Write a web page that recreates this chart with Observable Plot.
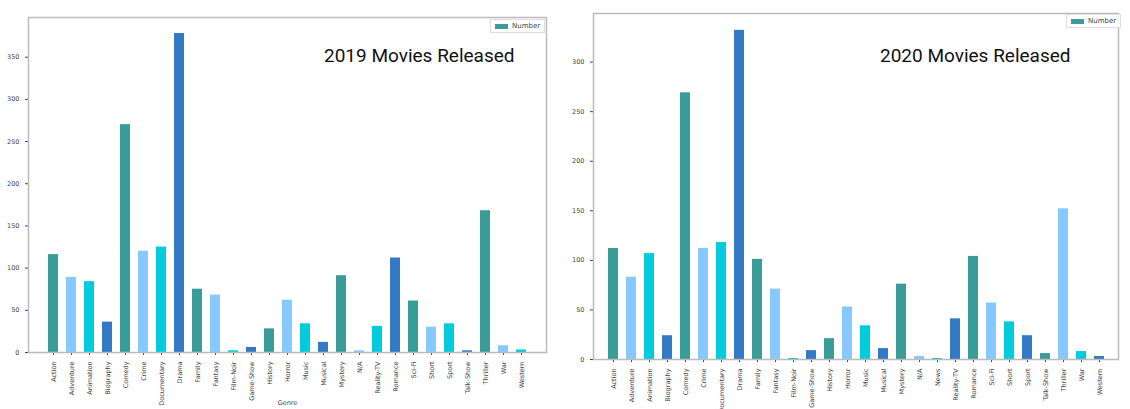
<!DOCTYPE html>
<html>
<head>
<meta charset="utf-8">
<script src="https://cdn.jsdelivr.net/npm/d3@7"></script>
<script src="https://cdn.jsdelivr.net/npm/@observablehq/plot@0.6"></script>
<style>
  body { margin: 0; background: #fff; font-family: "DejaVu Sans", sans-serif; }
  .panel { position: absolute; top: 0; }
  .title { position: absolute; font-family: Roboto, sans-serif; font-size: 19px; color: #111; }
  .legend { position: absolute; border: 1px solid #ddd; font-size: 7px; color: #444; padding: 2px 4px; background: #fff; display: flex; align-items: center; gap: 4px; }
  .legend i { display: inline-block; width: 13px; height: 5px; background: #3a9c98; }
</style>
</head>
<body>
<div id="p2019" class="panel" style="left:0"></div>
<div id="p2020" class="panel" style="left:565px"></div>
<script>
// Genre counts
const genres2019 = ["Action","Adventure","Animation","Biography","Comedy","Crime","Documentary","Drama","Family","Fantasy","Film-Noir","Game-Show","History","Horror","Music","Musical","Mystery","N/A","Reality-TV","Romance","Sci-Fi","Short","Sport","Talk-Show","Thriller","War","Western"];
const counts2019 = [116, 89, 84, 36, 270, 120, 125, 378, 75, 68, 2, 6, 28, 62, 34, 12, 91, 2, 31, 112, 61, 30, 34, 2, 168, 8, 3];

const genres2020 = ["Action","Adventure","Animation","Biography","Comedy","Crime","Documentary","Drama","Family","Fantasy","Film-Noir","Game-Show","History","Horror","Music","Musical","Mystery","N/A","News","Reality-TV","Romance","Sci-Fi","Short","Sport","Talk-Show","Thriller","War","Western"];
const counts2020 = [112, 83, 107, 24, 269, 112, 118, 332, 101, 71, 1, 9, 21, 53, 34, 11, 76, 3, 1, 41, 104, 57, 38, 24, 6, 152, 8, 3];

const palette = ["#3a9c98", "#87c9ff", "#00ccdd", "#3479c6"];

function renderPanel(id, genres, counts, opts) {
  const el = document.getElementById(id);
  const rows = genres.map((g, i) => ({ genre: g, count: counts[i], c: palette[i % 4] }));
  const plot = Plot.plot({
    width: opts.width,
    height: 409,
    marginLeft: 28,
    marginRight: 2,
    marginTop: opts.top,
    marginBottom: opts.bottom,
    style: { fontSize: "6.5px", color: "#444", fontFamily: "DejaVu Sans, sans-serif" },
    x: { domain: genres, padding: 0.46, label: opts.xlabel, labelAnchor: "center", labelOffset: 52, tickRotate: -90, tickSize: 3 },
    y: { domain: [0, opts.ymax], ticks: opts.ticks, label: null, tickSize: 3 },
    marks: [
      Plot.barY(rows, { x: "genre", y: "count", fill: d => d.c }),
      Plot.frame({ stroke: "#bbb", strokeWidth: 1.5 }),
    ],
  });
  el.appendChild(plot);
}

renderPanel("p2019", genres2019, counts2019, { width: 548, top: 17, bottom: 57, ymax: 397, ticks: d3.range(0, 351, 50), xlabel: "Genre" });
renderPanel("p2020", genres2020, counts2020, { width: 555, top: 13, bottom: 50, ymax: 349, ticks: d3.range(0, 301, 50), xlabel: null });
</script>
<div class="title" style="left:324px; top:44px">2019 Movies Released</div>
<div class="title" style="left:880px; top:44px">2020 Movies Released</div>
<div class="legend" style="left:490px; top:19px"><i></i>Number</div>
<div class="legend" style="left:1066px; top:14px"><i></i>Number</div>
</body>
</html>
